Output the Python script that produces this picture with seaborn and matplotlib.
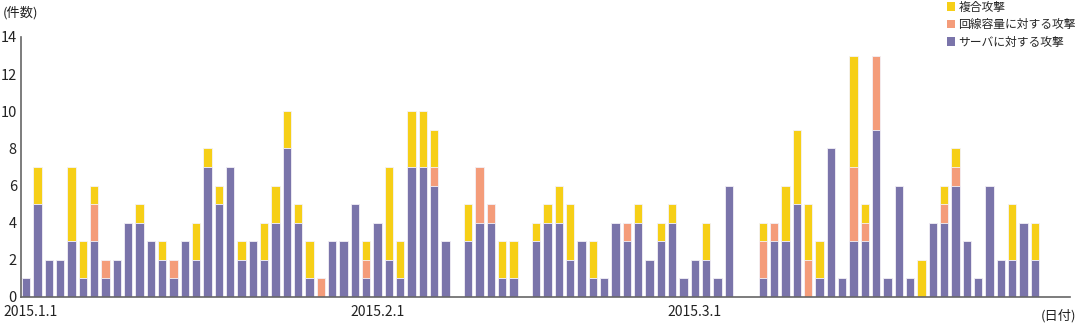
import matplotlib
matplotlib.use("Agg")
import matplotlib.pyplot as plt
import matplotlib.transforms as mtransforms
import seaborn as sns
import pandas as pd
from matplotlib.patches import Patch

# Daily counts 2015-01-01 .. 2015-03-31
server = [1, 5, 2, 2, 3, 1, 3, 1, 2, 4, 4, 3, 2, 1, 3, 2, 7, 5, 7, 2, 3, 2, 4, 8, 4, 1, 0, 3, 3, 5, 1,
          4, 2, 1, 7, 7, 6, 3, 0, 3, 4, 4, 1, 1, 0, 3, 4, 4, 2, 3, 1, 1, 4, 3, 4, 2, 3, 4, 1,
          2, 2, 1, 6, 0, 0, 1, 3, 3, 5, 0, 1, 8, 1, 3, 3, 9, 1, 6, 1, 0, 4, 4, 6, 3, 1, 6, 2, 2, 4, 2]
line = [0, 0, 0, 0, 0, 0, 2, 1, 0, 0, 0, 0, 0, 1, 0, 0, 0, 0, 0, 0, 0, 0, 0, 0, 0, 0, 1, 0, 0, 0, 1,
        0, 0, 0, 0, 0, 1, 0, 0, 0, 3, 1, 0, 0, 0, 0, 0, 0, 0, 0, 0, 0, 0, 1, 0, 0, 0, 0, 0,
        0, 0, 0, 0, 0, 0, 2, 1, 0, 0, 2, 0, 0, 0, 4, 1, 4, 0, 0, 0, 0, 0, 1, 1, 0, 0, 0, 0, 0, 0, 0]
combined = [0, 2, 0, 0, 4, 2, 1, 0, 0, 0, 1, 0, 1, 0, 0, 2, 1, 1, 0, 1, 0, 2, 2, 2, 1, 2, 0, 0, 0, 0, 1,
            0, 5, 2, 3, 3, 2, 0, 0, 2, 0, 0, 2, 2, 0, 1, 1, 2, 3, 0, 2, 0, 0, 0, 1, 0, 1, 1, 0,
            0, 2, 0, 0, 0, 0, 1, 0, 3, 4, 3, 2, 0, 0, 6, 1, 0, 0, 0, 0, 2, 0, 1, 1, 0, 0, 0, 0, 3, 0, 2]

dates = pd.date_range("2015-01-01", "2015-03-31", freq="D").strftime("%Y-%m-%d").tolist()
tick_dates = ["2015-01-01", "2015-02-01", "2015-03-01"]
tick_labels = ["2015.1.1", "2015.2.1", "2015.3.1"]
series_names = ["複合攻撃", "回線容量に対する攻撃", "サーバに対する攻撃"]
colors = ["#f6cf17", "#f49c7a", "#7a74aa"]

df = pd.DataFrame({"date": dates, "server": server, "line": line, "combined": combined})
df["lvl2"] = df["server"] + df["line"]
df["lvl3"] = df["lvl2"] + df["combined"]

sns.set_style("white")
plt.rcParams["font.family"] = ["Noto Sans CJK JP", "DejaVu Sans"]

fig = plt.figure(figsize=(10.8, 3.25), dpi=100)
ax = fig.add_axes([21 / 1080, 28 / 325, 1049 / 1080, 260 / 325])

for col, c in zip(["lvl3", "lvl2", "server"], colors):
    sns.barplot(data=df, x="date", y=col, order=dates, color=c, saturation=1,
                width=0.72, edgecolor="#f4f2f8", linewidth=0.6, ax=ax)

ax.set_xlim(-0.45, 92.1)
ax.set_ylim(0, 14)
ax.set_yticks(range(0, 15, 2))
ax.set_xlabel("")
ax.set_ylabel("")
ax.set_xticks([dates.index(d) for d in tick_dates])
ax.set_xticklabels(tick_labels, fontsize=10, color="#222222")
ax.tick_params(axis="y", direction="in", length=7, width=1, color="#555555",
               labelsize=10.5, labelcolor="#222222", pad=3)
ax.tick_params(axis="x", direction="out", length=4, width=1, color="#555555", pad=2)
first = ax.get_xticklabels()[0]
first.set_transform(first.get_transform() + mtransforms.ScaledTranslation(3 / 72, 0, fig.dpi_scale_trans))
for s in ["top", "right"]:
    ax.spines[s].set_visible(False)
for s in ["left", "bottom"]:
    ax.spines[s].set_color("#666666")
    ax.spines[s].set_linewidth(1.2)

fig.text(3 / 1080, 1 - 13 / 325, "(件数)", fontsize=9.5, va="center", ha="left", color="#222222")
fig.text(1076 / 1080, 1 - 316 / 325, "(日付)", fontsize=9.5, va="center", ha="right", color="#222222")

handles = [Patch(facecolor=c, edgecolor="none") for c in colors]
fig.legend(handles, series_names, loc="upper left", bbox_to_anchor=(946 / 1080, 1.0),
           frameon=False, fontsize=8.5, handlelength=0.75, handleheight=0.75,
           handletextpad=0.25, labelspacing=0.38, borderaxespad=0.0, borderpad=0.05)

fig.savefig("out.png", dpi=100)
